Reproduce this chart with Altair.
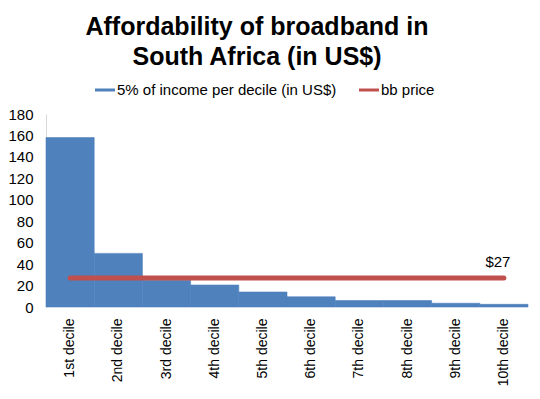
import altair as alt
import pandas as pd

deciles = ["1st decile", "2nd decile", "3rd decile", "4th decile", "5th decile",
           "6th decile", "7th decile", "8th decile", "9th decile", "10th decile"]
income = [158, 50, 25, 20.5, 14, 9.5, 6, 6, 3.5, 2.5]
bb_price = [27, 27, 27, 27, 27, 27, 27, 27, 27, 27]
price_labels = ["", "", "", "", "", "", "", "", "", "$27"]
series_names = ["5% of income per decile (in US$)", "bb price"]
y_ticks = [0, 20, 40, 60, 80, 100, 120, 140, 160, 180]

FONT = "Liberation Sans"

df = pd.DataFrame({
    "decile": deciles,
    "income": income,
    "price": bb_price,
    "label": price_labels,
    "s_bar": series_names[0],
    "s_line": series_names[1],
})

color_scale = alt.Scale(domain=series_names, range=["#4F81BD", "#C0504D"])
x_enc = alt.X("decile:N", sort=deciles, scale=alt.Scale(paddingInner=0, paddingOuter=0),
              axis=alt.Axis(title=None, labelAngle=-90, labelFontSize=14, labelColor="#000",
                            labelFont=FONT, ticks=False, domain=False, labelPadding=11))

legend = alt.Legend(title=None, orient="none", legendX=49, legendY=-34, direction="horizontal",
                    symbolType="M-1,-0.15L1,-0.15L1,0.15L-1,0.15Z", symbolSize=400,
                    symbolStrokeWidth=0, labelFontSize=15, labelFont=FONT, labelColor="#000",
                    columnPadding=22, labelOffset=2, symbolOpacity=1, labelLimit=400)

y_axis = alt.Axis(title=None, values=y_ticks, labelFontSize=15, labelColor="#000",
                  labelFont=FONT, ticks=False, grid=False, domainColor="#d9d9d9",
                  labelPadding=13, labelOverlap=False, labelFlush=False)

bars = alt.Chart(df).mark_bar(opacity=1, stroke="#4F81BD", strokeWidth=0.6).encode(
    x=x_enc,
    y=alt.Y("income:Q", scale=alt.Scale(domain=[0, 180], nice=False), axis=y_axis),
    color=alt.Color("s_bar:N", scale=color_scale, legend=legend),
)

line = alt.Chart(df).mark_line(strokeWidth=5, strokeCap="round").encode(
    x=alt.X("decile:N", sort=deciles),
    y=alt.Y("price:Q", axis=y_axis),
    color=alt.Color("s_line:N", scale=color_scale, legend=legend),
)

text = alt.Chart(df).mark_text(fontSize=15, font=FONT, color="#000", dy=-16, dx=-6).encode(
    x=alt.X("decile:N", sort=deciles),
    y=alt.Y("price:Q", axis=y_axis),
    text="label:N",
)

chart = alt.layer(bars, line, text).properties(
    width=482, height=193,
    title=alt.TitleParams(["Affordability of broadband in", "South Africa (in US$)"],
                          fontSize=25, font=FONT, fontWeight="bold", color="#000",
                          anchor="middle", dx=-30, offset=10, lineHeight=30),
    autosize=alt.AutoSizeParams(type="none"),
    padding={"left": 38, "top": 106, "right": 4, "bottom": 85},
).configure(background="white").configure_view(stroke=None).configure_axisY(labelOverlap=False)

chart.save("out.html", embed_options={"renderer": "svg", "actions": False})
